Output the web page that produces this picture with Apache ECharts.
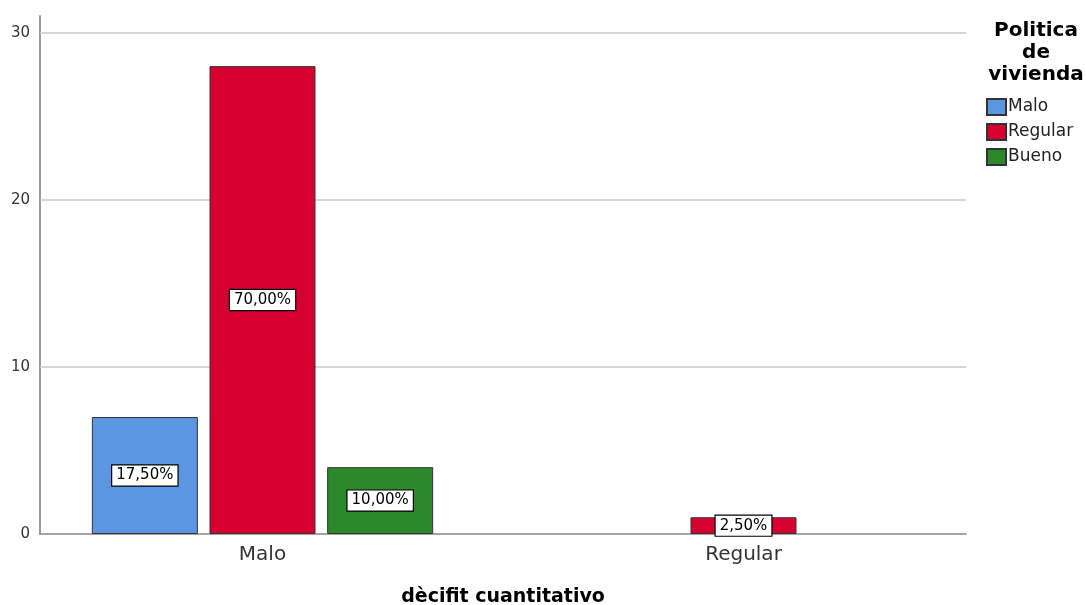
<!DOCTYPE html>
<html>
<head>
<meta charset="utf-8">
<script src="https://cdn.jsdelivr.net/npm/echarts@6/dist/echarts.min.js"></script>
<style>html,body{margin:0;padding:0;background:#fff}#c{width:1086px;height:605px}</style>
</head>
<body>
<div id="c"></div>
<script>
const categories = ['Malo', 'Regular'];
const seriesNames = ['Malo', 'Regular', 'Bueno'];
const countsMalo = [7, null];
const countsRegular = [28, 1];
const countsBueno = [4, null];
const pctMalo = [17.5, null];
const pctRegular = [70, 2.5];
const pctBueno = [10, null];
const yTicks = [0, 10, 20, 30];
const gridLines = [10, 20, 30];
const colors = ['#5b96e3', '#d5002f', '#2b882b'];

const FONT = 'DejaVu Sans';
const fmtPct = v => v.toFixed(2).replace('.', ',') + '%';

function mkSeries(name, counts, pcts, color, withGrid) {
  const s = {
    name: name,
    type: 'bar',
    barWidth: 106,
    barGap: '11%',
    data: categories.map((c, i) => counts[i] == null ? null : { value: [i, counts[i]] }),
    itemStyle: { color: color, borderColor: '#333', borderWidth: 1 },
    label: {
      show: true,
      position: 'inside',
      formatter: p => fmtPct(pcts[p.dataIndex]),
      fontFamily: FONT,
      fontSize: 15,
      color: '#000',
      backgroundColor: '#fff',
      borderColor: '#000',
      borderWidth: 1.2,
      padding: [3, 4, 2, 4]
    },
    z: 3
  };
  if (withGrid) {
    s.markLine = {
      silent: true,
      symbol: 'none',
      z: 1,
      label: { show: false },
      lineStyle: { color: '#c8c8c8', width: 1.5, type: 'solid' },
      data: gridLines.map(v => ({ yAxis: v }))
    };
  }
  return s;
}

const chart = echarts.init(document.getElementById('c'), null, { renderer: 'canvas' });
chart.setOption({
  animation: false,
  backgroundColor: '#fff',
  textStyle: { fontFamily: FONT },
  title: {
    text: 'Politica\nde\nvivienda',
    left: 1031,
    top: 15,
    textAlign: 'center',
    textStyle: { fontFamily: FONT, fontWeight: 'bold', fontSize: 20, lineHeight: 22, color: '#000' }
  },
  legend: {
    orient: 'vertical',
    left: 981,
    top: 93,
    itemWidth: 19,
    itemHeight: 16,
    itemGap: 7,
    icon: 'rect',
    data: seriesNames,
    textStyle: { fontFamily: FONT, fontSize: 17, color: '#222', padding: [0, 0, 0, -3] }
  },
  grid: { left: 40, right: 120, top: 16, bottom: 71, outerBoundsMode: 'none', containLabel: false },
  xAxis: {
    type: 'value',
    min: -0.4626,
    max: 1.4626,
    name: 'dècifit cuantitativo',
    nameLocation: 'middle',
    nameGap: 54,
    nameTextStyle: { fontFamily: FONT, fontWeight: 'bold', fontSize: 19, color: '#000' },
    axisLine: { show: true, onZero: false, lineStyle: { color: '#888', width: 1.5 } },
    axisTick: { show: false },
    splitLine: { show: false },
    axisLabel: {
      customValues: categories.map((c, i) => i),
      formatter: v => categories[Math.round(v)],
      fontFamily: FONT,
      fontSize: 20,
      color: '#333',
      margin: 11
    }
  },
  yAxis: {
    type: 'value',
    min: 0,
    max: 31,
    axisLine: { show: true, onZero: false, lineStyle: { color: '#999', width: 2 } },
    axisTick: { show: false },
    splitLine: { show: false },
    axisLabel: {
      customValues: yTicks,
      fontFamily: FONT,
      fontSize: 15,
      color: '#333',
      margin: 10
    }
  },
  series: [
    mkSeries(seriesNames[0], countsMalo, pctMalo, colors[0], true),
    mkSeries(seriesNames[1], countsRegular, pctRegular, colors[1], false),
    mkSeries(seriesNames[2], countsBueno, pctBueno, colors[2], false)
  ]
});
</script>
</body>
</html>
